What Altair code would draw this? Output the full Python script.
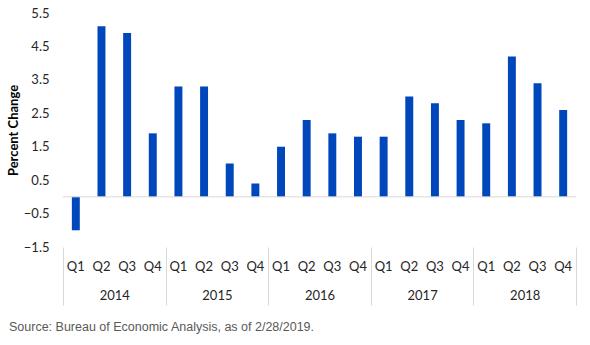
import altair as alt
import pandas as pd

# Real GDP, quarterly percent change (annualized), 2014-2018
years = ["2014", "2015", "2016", "2017", "2018"]
quarters = ["Q1", "Q2", "Q3", "Q4"]
growth = [
    -1.0, 5.1, 4.9, 1.9,   # 2014
    3.3, 3.3, 1.0, 0.4,    # 2015
    1.5, 2.3, 1.9, 1.8,    # 2016
    1.8, 3.0, 2.8, 2.3,    # 2017
    2.2, 4.2, 3.4, 2.6,    # 2018
]
y_ticks = [-1.5, -0.5, 0.5, 1.5, 2.5, 3.5, 4.5, 5.5]
source_note = "Source: Bureau of Economic Analysis, as of 2/28/2019."

rows = []
i = 0
for yr in years:
    for q in quarters:
        rows.append({"key": f"{yr}-{q}", "year": yr, "quarter": q, "value": growth[i]})
        i += 1
df = pd.DataFrame(rows)
year_df = pd.DataFrame({"year": years})
zero_df = pd.DataFrame({"z": [0]})

BLUE = "#0047bb"
GRID = "#d9d9d9"
TEXT = "#262626"
LABEL_FONT = "Lato"

y_scale = alt.Scale(domain=[-1.5, 5.5], nice=False, zero=False)

bars = alt.Chart(df).mark_bar(color=BLUE).encode(
    x=alt.X(
        "key:N",
        sort=list(df["key"]),
        scale=alt.Scale(paddingInner=0.69, paddingOuter=0.345),
        axis=alt.Axis(
            title=None,
            domain=False,
            ticks=False,
            labelAngle=0,
            labelPadding=13,
            labelFontSize=13,
            labelFont=LABEL_FONT,
            labelColor=TEXT,
            labelExpr="split(datum.label, '-')[1]",
        ),
    ),
    y=alt.Y(
        "value:Q",
        scale=y_scale,
        axis=alt.Axis(
            title="Percent Change",
            values=y_ticks,
            tickCount=len(y_ticks),
            format=".1f",
            grid=False,
            domain=False,
            ticks=False,
            labelOverlap=False,
            labelFlush=False,
            labelBound=False,
            labelPadding=14,
            labelFontSize=13,
            labelFont=LABEL_FONT,
            labelColor=TEXT,
            titleFont=LABEL_FONT,
            titleFontSize=13,
            titleFontWeight="bold",
            titleColor="#000000",
            titleX=-43,
            titleBaseline="bottom",
        ),
    ),
)

# Horizontal line at zero
zero_line = alt.Chart(zero_df).mark_rule(color=GRID, strokeWidth=1).encode(
    y=alt.Y("z:Q", scale=y_scale)
)

# Year groups along the bottom, with separators at group boundaries
year_axis = alt.Chart(year_df).mark_point(opacity=0).encode(
    x=alt.X(
        "year:N",
        scale=alt.Scale(paddingInner=0, paddingOuter=0),
        axis=alt.Axis(
            title=None,
            orient="bottom",
            domain=False,
            ticks=True,
            tickBand="extent",
            tickSize=58,
            tickColor=GRID,
            labelAngle=0,
            labelPadding=-16,
            labelFontSize=13,
            labelFont=LABEL_FONT,
            labelColor=TEXT,
        ),
    )
)

chart = (
    alt.layer(bars, zero_line, year_axis)
    .resolve_scale(x="independent")
    .resolve_axis(x="independent")
    .properties(
        width=513,
        height=234,
        autosize=alt.AutoSizeParams(type="none"),
        padding={"left": 63, "top": 13, "right": 14, "bottom": 98},
        title=alt.TitleParams(
            source_note,
            orient="bottom",
            anchor="start",
            frame="bounds",
            font="Liberation Sans",
            fontSize=12.5,
            fontWeight="normal",
            color="#595959",
            offset=15,
            dx=2,
        ),
    )
    .configure_view(stroke=None)
)

chart.save("out.html", embed_options={"renderer": "svg", "actions": False})
